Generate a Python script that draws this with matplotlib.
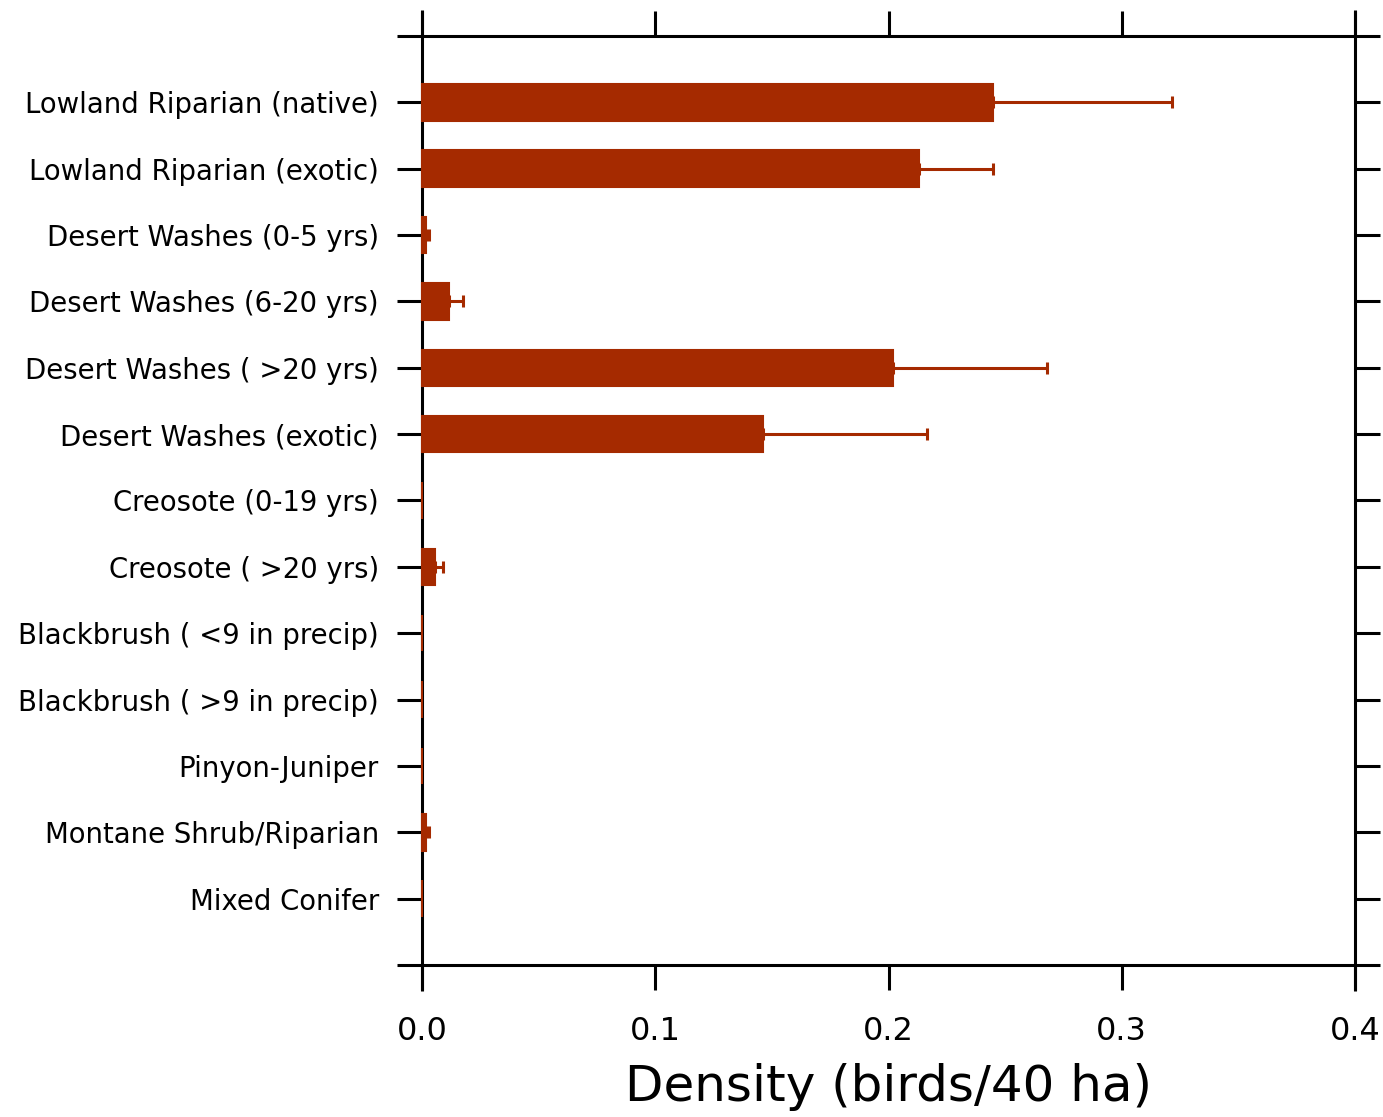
"""Horizontal bar chart of bird density by habitat, with one-sided error bars."""
import matplotlib
matplotlib.use("Agg")
import matplotlib.pyplot as plt
import numpy as np

habitats = [
    "Lowland Riparian (native)",
    "Lowland Riparian (exotic)",
    "Desert Washes (0-5 yrs)",
    "Desert Washes (6-20 yrs)",
    "Desert Washes ( >20 yrs)",
    "Desert Washes (exotic)",
    "Creosote (0-19 yrs)",
    "Creosote ( >20 yrs)",
    "Blackbrush ( <9 in precip)",
    "Blackbrush ( >9 in precip)",
    "Pinyon-Juniper",
    "Montane Shrub/Riparian",
    "Mixed Conifer",
]
density = [0.245, 0.213, 0.0017, 0.0116, 0.202, 0.146, 0.0, 0.0056,
           0.0, 0.0, 0.0, 0.0017, 0.0]
err_upper = [0.0765, 0.032, 0.0013, 0.006, 0.066, 0.0705, 0.0, 0.0033,
             0.0, 0.0, 0.0, 0.0013, 0.0]
xticks = [0.0, 0.1, 0.2, 0.3, 0.4]

BAR = "#a52a00"
FONT = "DejaVu Sans"

fig = plt.figure(figsize=(13.83, 11.17), dpi=100)
ax = fig.add_axes([0.3051, 0.1361, 0.6747, 0.8317])

y = np.arange(len(habitats))
ax.barh(y, density, height=0.55, color=BAR, edgecolor=BAR, linewidth=1.5,
        zorder=5, clip_on=False)
nz = [i for i, e in enumerate(err_upper) if e > 0]
ax.errorbar([density[i] for i in nz], y[nz],
            xerr=[[0] * len(nz), [err_upper[i] for i in nz]],
            fmt="none", ecolor=BAR, elinewidth=2.2, capsize=4.5, capthick=2.2,
            zorder=6, clip_on=False)

ax.set_xlim(0, 0.4)
ax.set_ylim(len(habitats), -1)
ax.set_yticks(y)
ax.set_yticklabels(habitats, fontsize=19.8, family=FONT)
ax.set_xticks(xticks)
ax.set_xticklabels([f"{t:.1f}" for t in xticks], fontsize=23, family=FONT)

ax.tick_params(axis="y", left=True, right=True, direction="out",
               length=18, width=2.2, pad=13)
ax.tick_params(axis="x", top=True, bottom=True, direction="out",
               length=18, width=2.2, pad=19)

# frame lines stick out past the axes by one tick length, like the original
for s in ax.spines.values():
    s.set_visible(False)
ex = 25 / (fig.bbox.width * 0.6747)
ey = 26 / (fig.bbox.height * 0.8317)
lk = dict(color="black", lw=2.2, transform=ax.transAxes, clip_on=False,
          zorder=4, solid_capstyle="butt")
ax.plot([-ex, 1 + ex], [0, 0], **lk)
ax.plot([-ex, 1 + ex], [1, 1], **lk)
ax.plot([0, 0], [-ey, 1 + ey], **lk)
ax.plot([1, 1], [-ey, 1 + ey], **lk)

ax.set_xlabel("Density (birds/40 ha)", fontsize=36, family=FONT, labelpad=11)

fig.savefig("out.png", dpi=100)
